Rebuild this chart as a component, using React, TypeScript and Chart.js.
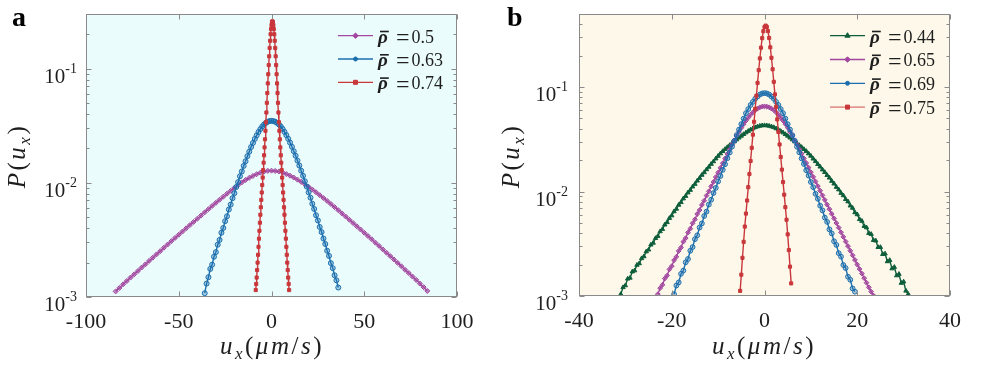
import React, { useEffect, useRef } from 'react';
import { Chart, registerables } from 'chart.js';

Chart.register(...registerables);

// ---------------- Panel a ----------------
const A_X_TICKS = [-100, -50, 0, 50, 100];
const A_Y_TICKS = [0.001, 0.01, 0.1];
const A_LABELS = ['0.5', '0.63', '0.74'];

const A_X_050 = [-84,-82,-80,-78,-76,-74,-72,-70,-68,-66,-64,-62,-60,-58,-56,-54,-52,-50,-48,-46,-44,-42,-40,-38,-36,-34,-32,-30,-28,-26,-24,-22,-20,-18,-16,-14,-12,-10,-8,-6,-4,-2,0,2,4,6,8,10,12,14,16,18,20,22,24,26,28,30,32,34,36,38,40,42,44,46,48,50,52,54,56,58,60,62,64,66,68,70,72,74,76,78,80,82,84];
const A_Y_050 = [0.00112,0.00120,0.00129,0.00138,0.00148,0.00158,0.00169,0.00181,0.00193,0.00207,0.00221,0.00236,0.00252,0.00270,0.00288,0.00308,0.00329,0.00351,0.00374,0.00399,0.00426,0.00454,0.00484,0.00516,0.00551,0.00587,0.00627,0.00667,0.00710,0.00755,0.00802,0.00851,0.00902,0.00955,0.01007,0.01057,0.01104,0.01148,0.01189,0.01225,0.01253,0.01271,
  0.01276,
  0.01268,0.01255,0.01228,0.01192,0.01153,0.01110,0.01065,0.01018,0.00970,0.00921,0.00872,0.00825,0.00779,0.00735,0.00693,0.00652,0.00612,0.00575,0.00539,0.00506,0.00474,0.00444,0.00416,0.00390,0.00365,0.00342,0.00320,0.00299,0.00280,0.00261,0.00244,0.00228,0.00213,0.00199,0.00186,0.00173,0.00162,0.00151,0.00141,0.00131,0.00122,0.00113];

const A_X_063 = [-36,-35,-34,-33,-32,-31,-30,-29,-28,-27,-26,-25,-24,-23,-22,-21,-20,-19,-18,-17,-16,-15,-14,-13,-12,-11,-10,-9,-8,-7,-6,-5,-4,-3,-2,-1,0,1,2,3,4,5,6,7,8,9,10,11,12,13,14,15,16,17,18,19,20,21,22,23,24,25,26,27,28,29,30,31,32,33,34,35,36];
const A_Y_063 = [0.00108,0.00131,0.00149,0.00176,0.00192,0.00225,0.00247,0.00287,0.00316,0.00365,0.00402,0.00461,0.00509,0.00583,0.00644,0.00733,0.00810,0.00917,0.01013,0.01140,0.01256,0.01405,0.01543,0.01710,0.01870,0.02055,0.02230,0.02418,0.02596,0.02783,0.02948,0.03107,0.03234,0.03344,0.03419,0.03468,
  0.03483,
  0.03465,0.03418,0.03345,0.03240,0.03110,0.02958,0.02790,0.02612,0.02428,0.02246,0.02066,0.01889,0.01722,0.01562,0.01415,0.01275,0.01150,0.01030,0.00925,0.00824,0.00740,0.00655,0.00590,0.00520,0.00468,0.00410,0.00370,0.00325,0.00291,0.00254,0.00229,0.00198,0.00179,0.00155,0.00140,0.00121];

const A_X_074 = [-8.5,-8.25,-8,-7.75,-7.5,-7.25,-7,-6.75,-6.5,-6.25,-6,-5.75,-5.5,-5.25,-5,-4.75,-4.5,-4.25,-4,-3.75,-3.5,-3.25,-3,-2.75,-2.5,-2.25,-2,-1.75,-1.5,-1.25,-1,-0.75,-0.5,-0.25,0,0.25,0.5,0.75,1,1.25,1.5,1.75,2,2.25,2.5,2.75,3,3.25,3.5,3.75,4,4.25,4.5,4.75,5,5.25,5.5,5.75,6,6.25,6.5,6.75,7,7.25,7.5,7.75,8,8.25,8.5,8.75,9,9.25,9.5];
const A_Y_074 = [0.00115,0.00130,0.00148,0.00172,0.00200,0.00234,0.00275,0.00324,0.00380,0.00447,0.00525,0.00610,0.00708,0.00822,0.00955,0.0111,0.0129,0.0150,0.0174,0.0204,0.0240,0.0285,0.0339,0.0412,0.0501,0.0610,0.0741,0.0891,0.1072,0.1279,0.1514,0.1750,0.1995,0.2213,0.2399,0.2547,
  0.2594,
  0.2547,0.2399,0.2213,0.1995,0.1750,0.1514,0.1279,0.1072,0.0891,0.0741,0.0610,0.0501,0.0412,0.0339,0.0285,0.0240,0.0204,0.0174,0.0150,0.0129,0.0111,0.00955,0.00822,0.00708,0.00610,0.00525,0.00447,0.00380,0.00324,0.00275,0.00234,0.00200,0.00172,0.00148,0.00130,0.00115];

// ---------------- Panel b ----------------
const B_X_TICKS = [-40, -20, 0, 20, 40];
const B_Y_TICKS = [0.001, 0.01, 0.1];
const B_LABELS = ['0.44', '0.65', '0.69', '0.75'];

const B_X_044 = [-31,-30.5,-30,-29.5,-29,-28.5,-28,-27.5,-27,-26.5,-26,-25.5,-25,-24.5,-24,-23.5,-23,-22.5,-22,-21.5,-21,-20.5,-20,-19.5,-19,-18.5,-18,-17.5,-17,-16.5,-16,-15.5,-15,-14.5,-14,-13.5,-13,-12.5,-12,-11.5,-11,-10.5,-10,-9.5,-9,-8.5,-8,-7.5,-7,-6.5,-6,-5.5,-5,-4.5,-4,-3.5,-3,-2.5,-2,-1.5,-1,-0.5,0,0.5,1,1.5,2,2.5,3,3.5,4,4.5,5,5.5,6,6.5,7,7.5,8,8.5,9,9.5,10,10.5,11,11.5,12,12.5,13,13.5,14,14.5,15,15.5,16,16.5,17,17.5,18,18.5,19,19.5,20,20.5,21,21.5,22,22.5,23,23.5,24,24.5,25,25.5,26,26.5,27,27.5,28,28.5,29,29.5,30,30.5,31];
const B_Y_044 = [0.00104,0.00121,0.00126,0.00146,0.00149,0.00171,0.00175,0.00198,0.00205,0.00229,0.00239,0.00266,0.00277,0.00309,0.00322,0.00357,0.00374,0.00415,0.00436,0.00481,0.00507,0.00556,0.00588,0.00644,0.00681,0.00744,0.00788,0.00855,0.00904,0.00976,0.01032,0.01112,0.01178,0.01267,0.01344,0.01440,0.01524,0.01625,0.01718,0.01831,0.01938,0.02064,0.02185,0.02309,0.02430,0.02543,0.02653,0.02772,0.02890,0.03014,0.03140,0.03271,0.03403,0.03533,0.03663,0.03786,0.03907,0.04011,0.04110,0.04186,0.04245,0.04284,
  0.04295,
  0.04282,0.04247,0.04184,0.04112,0.04009,0.03909,0.03784,0.03665,0.03531,0.03405,0.03269,0.03142,0.03012,0.02892,0.02770,0.02657,0.02539,0.02434,0.02305,0.02191,0.02058,0.01944,0.01825,0.01725,0.01619,0.01531,0.01432,0.01353,0.01259,0.01188,0.01103,0.01043,0.00966,0.00916,0.00843,0.00801,0.00731,0.00695,0.00630,0.00603,0.00542,0.00522,0.00466,0.00452,0.00399,0.00391,0.00342,0.00338,0.00293,0.00293,0.00251,0.00254,0.00214,0.00220,0.00183,0.00189,0.00157,0.00162,0.00133,0.00137,0.00112,0.00104];

const B_X_065 = [-23,-22.5,-22,-21.5,-21,-20.5,-20,-19.5,-19,-18.5,-18,-17.5,-17,-16.5,-16,-15.5,-15,-14.5,-14,-13.5,-13,-12.5,-12,-11.5,-11,-10.5,-10,-9.5,-9,-8.5,-8,-7.5,-7,-6.5,-6,-5.5,-5,-4.5,-4,-3.5,-3,-2.5,-2,-1.5,-1,-0.5,0,0.5,1,1.5,2,2.5,3,3.5,4,4.5,5,5.5,6,6.5,7,7.5,8,8.5,9,9.5,10,10.5,11,11.5,12,12.5,13,13.5,14,14.5,15,15.5,16,16.5,17,17.5,18,18.5,19,19.5,20,20.5,21,21.5,22,22.5,23,23.5];
const B_Y_065 = [0.00104,0.00119,0.00128,0.00147,0.00157,0.00180,0.00193,0.00220,0.00237,0.00270,0.00291,0.00331,0.00358,0.00405,0.00441,0.00497,0.00541,0.00609,0.00665,0.00745,0.00817,0.00914,0.01004,0.01120,0.01235,0.01375,0.01518,0.01685,0.01864,0.02068,0.02290,0.02535,0.02805,0.03090,0.03404,0.03724,0.04074,0.04406,0.04764,0.05095,0.05445,0.05725,0.06012,0.06215,0.06397,0.06498,
  0.06531,
  0.06495,0.06400,0.06220,0.06018,0.05730,0.05452,0.05102,0.04772,0.04415,0.04083,0.03733,0.03413,0.03099,0.02814,0.02544,0.02300,0.02076,0.01875,0.01693,0.01530,0.01382,0.01247,0.01127,0.01017,0.00919,0.00830,0.00749,0.00678,0.00611,0.00553,0.00499,0.00451,0.00407,0.00368,0.00332,0.00300,0.00271,0.00245,0.00221,0.00200,0.00181,0.00164,0.00148,0.00134,0.00121,0.00110,0.00101];

const B_X_069 = [-19.5,-19,-18.5,-18,-17.5,-17,-16.5,-16,-15.5,-15,-14.5,-14,-13.5,-13,-12.5,-12,-11.5,-11,-10.5,-10,-9.5,-9,-8.5,-8,-7.5,-7,-6.5,-6,-5.5,-5,-4.5,-4,-3.5,-3,-2.5,-2,-1.5,-1,-0.5,0,0.5,1,1.5,2,2.5,3,3.5,4,4.5,5,5.5,6,6.5,7,7.5,8,8.5,9,9.5,10,10.5,11,11.5,12,12.5,13,13.5,14,14.5,15,15.5,16,16.5,17,17.5,18,18.5,19,19.5];
const B_Y_069 = [0.00104,0.00126,0.00135,0.00163,0.00175,0.00210,0.00226,0.00271,0.00294,0.00350,0.00381,0.00452,0.00495,0.00583,0.00642,0.00750,0.00834,0.00967,0.01083,0.01249,0.01406,0.01612,0.01823,0.02083,0.02363,0.02694,0.03053,0.03468,0.03912,0.04417,0.04982,0.05623,0.06150,0.06730,0.07210,0.07727,0.08110,0.08472,0.08680,
  0.08750,
  0.08682,0.08470,0.08112,0.07724,0.07213,0.06727,0.06153,0.05620,0.04986,0.04412,0.03917,0.03462,0.03060,0.02686,0.02372,0.02073,0.01836,0.01598,0.01422,0.01233,0.01100,0.00950,0.00852,0.00731,0.00660,0.00563,0.00512,0.00434,0.00397,0.00334,0.00308,0.00257,0.00238,0.00198,0.00185,0.00153,0.00143,0.00118,0.00110];

const B_X_075 = [-5.25,-5,-4.75,-4.5,-4.25,-4,-3.75,-3.5,-3.25,-3,-2.75,-2.5,-2.25,-2,-1.75,-1.5,-1.25,-1,-0.75,-0.5,-0.25,0,0.25,0.5,0.75,1,1.25,1.5,1.75,2,2.25,2.5,2.75,3,3.25,3.5,3.75,4,4.25,4.5,4.75,5,5.25,5.5,5.75];
const B_Y_075 = [0.00112,0.00160,0.00232,0.00330,0.00462,0.00615,0.00820,0.0110,0.0147,0.0196,0.0262,0.0350,0.0465,0.0620,0.0825,0.1095,0.1450,0.1880,0.2380,0.2935,0.3420,0.3755,
  0.3873,
  0.3758,0.3428,0.2951,0.2399,0.1905,0.1479,0.1122,0.0851,0.0646,0.0490,0.0372,0.0282,0.0214,0.0162,0.0123,0.00933,0.00708,0.00537,0.00389,0.00275,0.00191,0.00132];

// ---------------- styling ----------------
const FONT = '"Liberation Serif", "DejaVu Serif", serif';
const TEXT = '#1e1e1e';
const PURPLE = '#A2469F';
const BLUE = '#1C6FAF';
const RED = '#C9373B';
const GREEN = '#0E5E3B';

function pts(xs: number[], ys: number[]) {
  return xs.map((x, i) => ({ x, y: ys[i] }));
}

function drawMarker(ctx: CanvasRenderingContext2D, style: string, x: number, y: number, r: number, fill: string, stroke: string) {
  ctx.beginPath();
  if (style === 'circle') ctx.arc(x, y, r, 0, Math.PI * 2);
  else if (style === 'rect') ctx.rect(x - r, y - r, 2 * r, 2 * r);
  else if (style === 'rectRot') {
    const k = r * 1.35;
    ctx.moveTo(x, y - k); ctx.lineTo(x + k, y); ctx.lineTo(x, y + k); ctx.lineTo(x - k, y); ctx.closePath();
  } else {
    const h = r * 1.5;
    ctx.moveTo(x, y - h); ctx.lineTo(x + h * 0.87, y + h * 0.5); ctx.lineTo(x - h * 0.87, y + h * 0.5); ctx.closePath();
  }
  ctx.fillStyle = fill; ctx.fill();
  ctx.lineWidth = 1; ctx.strokeStyle = stroke; ctx.stroke();
}

const framePlugin = {
  id: 'frame',
  beforeDatasetsDraw(chart: any, _args: any, o: any) {
    const { ctx, chartArea: a } = chart;
    ctx.save();
    ctx.fillStyle = o.bg;
    ctx.fillRect(a.left, a.top, a.right - a.left, a.bottom - a.top);
    ctx.restore();
  },
  afterDatasetsDraw(chart: any, _args: any, o: any) {
    const { ctx, chartArea: a, scales } = chart;
    const xs = scales.x, ys = scales.y;
    const L = Math.round(a.left) + 0.5, R = Math.round(a.right) - 0.5;
    const T = Math.round(a.top) + 0.5, B = Math.round(a.bottom) - 0.5;
    ctx.save();
    ctx.strokeStyle = '#8a8a8a';
    ctx.lineWidth = 1;
    ctx.strokeRect(L, T, R - L, B - T);
    const seg = (x1: number, y1: number, x2: number, y2: number) => {
      ctx.beginPath(); ctx.moveTo(x1, y1); ctx.lineTo(x2, y2); ctx.stroke();
    };
    for (const v of o.xTicks) {
      const px = Math.round(xs.getPixelForValue(v)) + 0.5;
      seg(px, B, px, B - 5);
      seg(px, T, px, T + 5);
    }
    for (let e = -3; e <= 0; e++) {
      for (let m = 1; m <= 9; m++) {
        const v = m * Math.pow(10, e);
        if (v < ys.min * 0.999 || v > ys.max) continue;
        const py = Math.round(ys.getPixelForValue(v)) + 0.5;
        const len = m === 1 ? 5 : 3;
        seg(L, py, L + len, py);
        seg(R, py, R - len, py);
      }
    }
    // y tick labels 10^n
    ctx.fillStyle = TEXT;
    ctx.textBaseline = 'alphabetic';
    for (const v of o.yTicks) {
      const py = ys.getPixelForValue(v);
      const exp = Math.round(Math.log10(v));
      const sup = '-' + String(-exp);
      ctx.font = '14px ' + FONT;
      const sw = ctx.measureText(sup).width;
      const right = a.left - o.labelGap;
      ctx.textAlign = 'left';
      ctx.fillText(sup, right - sw, py + 4);
      ctx.font = '21px ' + FONT;
      ctx.textAlign = 'right';
      ctx.fillText('10', right - sw, py + 14);
    }
    // legend
    const lg = o.legend;
    chart.data.datasets.forEach((ds: any, i: number) => {
      const y = lg.y0 + i * lg.dy;
      ctx.strokeStyle = ds.legendLine || ds.borderColor;
      ctx.lineWidth = 1.3;
      seg(lg.x0, y, lg.x1, y);
      drawMarker(ctx, ds.pointStyle, (lg.x0 + lg.x1) / 2, y, 2, ds.borderColor, ds.borderColor);
      ctx.fillStyle = TEXT;
      ctx.textAlign = 'left';
      ctx.font = 'italic bold 19px ' + FONT;
      const rx = lg.x1 + 5;
      ctx.fillText('\u03C1', rx, y + 6.8);
      const rw = ctx.measureText('\u03C1').width;
      ctx.fillRect(rx + 2, y - 5, rw - 1, 1.6);
      ctx.font = '24px ' + FONT;
      ctx.fillText('=', lg.x1 + 23, y + 9.2);
      ctx.font = '18px ' + FONT;
      ctx.fillText(ds.valueLabel, lg.x1 + 38.5, y + 6.8);
    });
    ctx.restore();
  },
};

function makeConfig(p: any) {
  return {
    type: 'scatter',
    data: { datasets: p.datasets },
    plugins: [framePlugin],
    options: {
      animation: false,
      responsive: false,
      maintainAspectRatio: false,
      layout: { padding: { left: 0, right: p.padRight, top: 14, bottom: 0 } },
      plugins: {
        legend: { display: false },
        tooltip: { enabled: false },
        frame: { bg: p.bg, xTicks: p.xTicks, yTicks: p.yTicks, labelGap: p.labelGap, legend: p.legend },
      },
      scales: {
        x: {
          type: 'linear',
          min: p.xTicks[0],
          max: p.xTicks[p.xTicks.length - 1],
          afterBuildTicks: (s: any) => { s.ticks = p.xTicks.map((v: number) => ({ value: v })); },
          ticks: { font: { family: FONT, size: 22 }, color: TEXT, padding: 4, maxRotation: 0, autoSkip: false },
          grid: { display: false },
          border: { display: false },
          afterFit: (s: any) => { s.height = p.xHeight; },
        },
        y: {
          type: 'logarithmic',
          min: 0.001,
          max: p.yMax,
          ticks: { display: false },
          grid: { display: false },
          border: { display: false },
          afterFit: (s: any) => { s.width = p.yWidth; },
        },
      },
    },
  };
}

function series(label: string, xs: number[], ys: number[], color: string, style: string, r: number, fillA: string, order: number, extra: any = {}) {
  return {
    label: '\u03C1\u0304 =' + label,
    valueLabel: label,
    data: pts(xs, ys),
    showLine: true,
    borderColor: color,
    borderWidth: 1.4,
    pointStyle: style,
    pointRadius: r,
    pointBorderWidth: 1,
    pointBorderColor: color,
    pointBackgroundColor: fillA,
    order,
    ...extra,
  };
}

export default function App() {
  const refA = useRef<HTMLCanvasElement>(null);
  const refB = useRef<HTMLCanvasElement>(null);

  useEffect(() => {
    const ca = new Chart(refA.current as any, makeConfig({
      bg: '#EAFCFC',
      xTicks: A_X_TICKS,
      yTicks: A_Y_TICKS,
      yMax: 0.3,
      padRight: 33,
      xHeight: 77,
      yWidth: 86,
      labelGap: 9,
      legend: { x0: 338, x1: 373, y0: 35.7, dy: 23.3 },
      datasets: [
        series(A_LABELS[0], A_X_050, A_Y_050, PURPLE, 'rectRot', 2.5, 'rgba(162,70,159,0.6)', 3),
        series(A_LABELS[1], A_X_063, A_Y_063, BLUE, 'circle', 2.5, 'rgba(28,111,175,0.35)', 2),
        series(A_LABELS[2], A_X_074, A_Y_074, RED, 'rect', 2.2, RED, 1),
      ],
    }) as any);
    const cb = new Chart(refB.current as any, makeConfig({
      bg: '#FDF8E9',
      xTicks: B_X_TICKS,
      yTicks: B_Y_TICKS,
      yMax: 0.5,
      padRight: 47,
      xHeight: 78,
      yWidth: 82,
      labelGap: 11,
      legend: { x0: 333, x1: 368, y0: 35.7, dy: 23.8 },
      datasets: [
        series(B_LABELS[0], B_X_044, B_Y_044, GREEN, 'triangle', 2.5, GREEN, 4),
        series(B_LABELS[1], B_X_065, B_Y_065, PURPLE, 'rectRot', 2.4, 'rgba(162,70,159,0.7)', 3),
        series(B_LABELS[2], B_X_069, B_Y_069, BLUE, 'circle', 2.4, 'rgba(28,111,175,0.35)', 2),
        series(B_LABELS[3], B_X_075, B_Y_075, RED, 'rect', 2.2, RED, 1, { legendLine: '#D9726E' }),
      ],
    }) as any);
    return () => { ca.destroy(); cb.destroy(); };
  }, []);

  const sub = { fontSize: '0.68em', position: 'relative' as const, top: '0.32em' };
  const xTitle = (
    <span>
      <i>u</i><span style={sub}><i>x</i></span>(<i>{'\u03BC'}m</i>/<i>s</i>)
    </span>
  );
  const yTitle = (
    <span>
      <i>P</i>(<i>u</i><span style={sub}><i>x</i></span>)
    </span>
  );
  const xTitleStyle = (cx: number) => ({
    position: 'absolute' as const, left: cx, top: 333, transform: 'translateX(-50%)',
    fontSize: 25, lineHeight: '25px', letterSpacing: '2.5px', whiteSpace: 'nowrap' as const, color: TEXT,
  });
  const yTitleStyle = (cx: number) => ({
    position: 'absolute' as const, left: cx, top: 156, transform: 'translate(-50%, -50%) rotate(-90deg)',
    fontSize: 25, lineHeight: '25px', letterSpacing: '2.5px', whiteSpace: 'nowrap' as const, color: TEXT,
  });
  const letter = (x: number) => ({
    position: 'absolute' as const, left: x, top: 3, fontSize: 28, lineHeight: '28px', fontWeight: 700, color: '#000',
  });

  return (
    <div style={{ position: 'absolute', left: 0, top: 0, width: 997, height: 374, background: '#fff', overflow: 'hidden', fontFamily: FONT }}>
      <canvas ref={refA} width={490} height={374} style={{ position: 'absolute', left: 0, top: 0 }} />
      <canvas ref={refB} width={500} height={374} style={{ position: 'absolute', left: 497, top: 0 }} />
      <div style={letter(12)}>a</div>
      <div style={letter(507)}>b</div>
      <div style={xTitleStyle(272)}>{xTitle}</div>
      <div style={xTitleStyle(764)}>{xTitle}</div>
      <div style={yTitleStyle(18)}>{yTitle}</div>
      <div style={yTitleStyle(512)}>{yTitle}</div>
    </div>
  );
}
